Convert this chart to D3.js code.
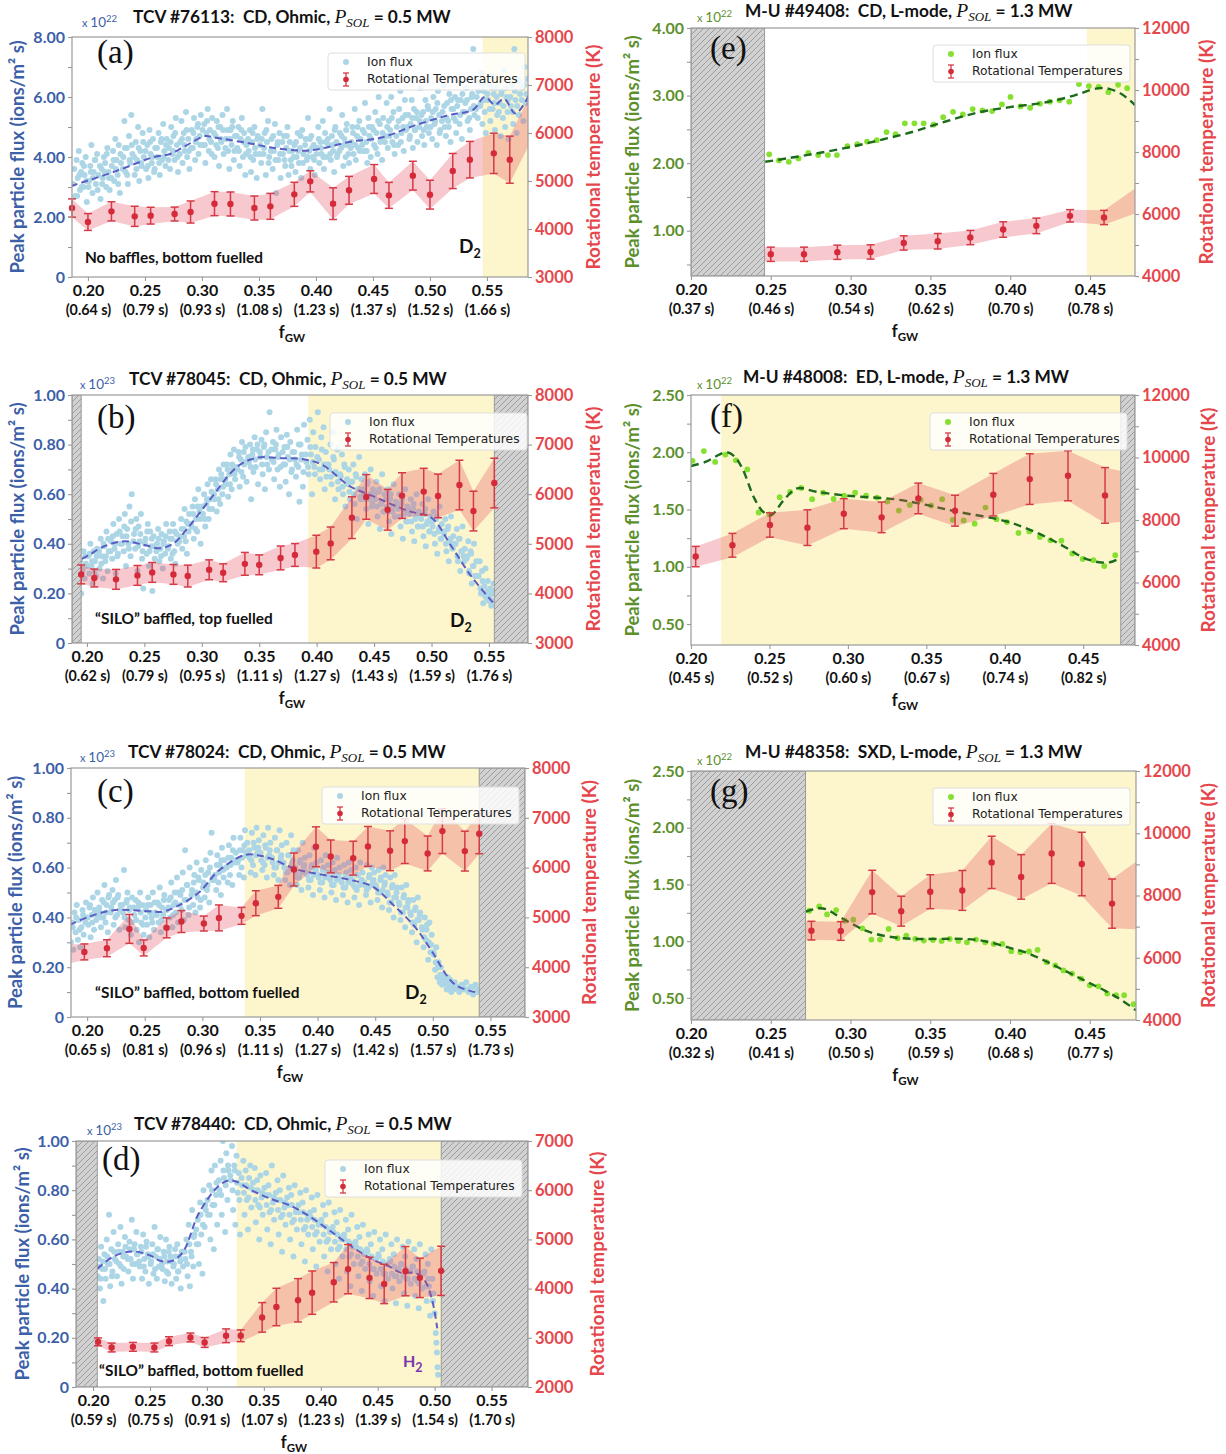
<!DOCTYPE html>
<html>
<head>
<meta charset="utf-8">
<script src="https://cdn.jsdelivr.net/npm/d3@7"></script>
<style>
body { margin: 0; background: #fff; }
svg { display: block; }
</style>
</head>
<body>
<svg id="fig" width="1226" height="1454"></svg>
<script>
// ---------- data ----------
var ticksTCV = [0.20, 0.25, 0.30, 0.35, 0.40, 0.45, 0.50, 0.55];
var ticksMU = [0.20, 0.25, 0.30, 0.35, 0.40, 0.45];
var timesA = ['0.64', '0.79', '0.93', '1.08', '1.23', '1.37', '1.52', '1.66'];
var timesB = ['0.62', '0.79', '0.95', '1.11', '1.27', '1.43', '1.59', '1.76'];
var timesC = ['0.65', '0.81', '0.96', '1.11', '1.27', '1.42', '1.57', '1.73'];
var timesD = ['0.59', '0.75', '0.91', '1.07', '1.23', '1.39', '1.54', '1.70'];
var timesE = ['0.37', '0.46', '0.54', '0.62', '0.70', '0.78'];
var timesF = ['0.45', '0.52', '0.60', '0.67', '0.74', '0.82'];
var timesG = ['0.32', '0.41', '0.50', '0.59', '0.68', '0.77'];

// ion flux, TCV #76113 (x 1e22): outer spread + dense core
var ionA = [[0.187,3.1],[0.188,3.6],[0.189,2.7],[0.190,3.9],[0.191,3.3],[0.192,4.2],[0.193,2.9],[0.194,3.5],[0.195,3.8],[0.196,3.0],[0.197,3.4],[0.198,4.0],[0.199,2.5],
[0.201,3.2],[0.202,3.7],[0.203,4.4],[0.204,2.8],[0.205,3.5],[0.206,3.9],[0.207,3.1],[0.208,4.1],[0.209,3.4],
[0.211,2.6],[0.212,3.6],[0.213,3.3],[0.214,4.0],[0.215,3.8],[0.216,3.0],[0.217,4.3],[0.218,3.5],[0.219,2.9],
[0.221,3.7],[0.222,4.2],[0.223,3.2],[0.224,4.6],[0.225,3.9],[0.226,3.4],[0.227,4.4],[0.228,2.8],[0.229,3.8],
[0.231,4.0],[0.232,5.2],[0.233,3.5],[0.234,4.3],[0.235,3.1],[0.236,4.7],[0.237,3.8],[0.238,5.4],[0.239,4.1],
[0.241,3.4],[0.242,4.5],[0.243,3.9],[0.244,5.0],[0.245,3.2],[0.246,4.2],[0.247,3.7],[0.248,4.8],[0.249,4.0],
[0.251,3.6],[0.252,4.4],[0.253,3.3],[0.254,4.9],[0.255,4.1],[0.256,3.8],[0.257,4.6],[0.258,3.5],[0.259,4.3],
[0.261,4.0],[0.262,4.8],[0.263,3.4],[0.264,4.5],[0.265,3.9],[0.266,5.1],[0.267,4.2],[0.268,3.7],[0.269,4.6],
[0.271,4.3],[0.272,3.6],[0.273,5.0],[0.274,4.1],[0.275,4.7],[0.276,3.9],[0.277,5.3],[0.278,4.4],[0.279,3.5],
[0.281,4.5],[0.282,5.2],[0.283,3.8],[0.284,4.8],[0.285,4.2],[0.286,5.5],[0.287,4.0],[0.288,4.6],[0.289,3.6],
[0.291,4.9],[0.292,4.3],[0.293,5.3],[0.294,3.9],[0.295,4.6],[0.296,5.0],[0.297,4.1],[0.298,4.7],[0.299,5.4],
[0.301,4.4],[0.302,5.1],[0.303,3.8],[0.304,4.8],[0.305,5.6],[0.306,4.2],[0.307,4.9],[0.308,4.5],[0.309,5.3],
[0.311,4.0],[0.312,4.7],[0.313,5.2],[0.314,4.3],[0.315,3.7],[0.316,5.0],[0.317,4.5],[0.318,5.4],[0.319,4.1],
[0.321,4.6],[0.322,5.6],[0.323,4.2],[0.324,3.6],[0.325,4.9],[0.326,4.4],[0.327,5.2],[0.328,3.9],[0.329,4.7],
[0.331,4.3],[0.332,5.0],[0.333,3.7],[0.334,4.6],[0.335,5.3],[0.336,4.0],[0.337,4.8],[0.338,3.4],[0.339,4.4],
[0.341,4.2],[0.342,4.9],[0.343,3.5],[0.344,4.5],[0.345,3.9],[0.346,5.0],[0.347,4.1],[0.348,3.3],[0.349,4.7],
[0.351,4.4],[0.352,3.8],[0.353,5.6],[0.354,4.1],[0.355,4.8],[0.356,3.4],[0.357,4.5],[0.358,5.2],[0.359,4.0],
[0.361,4.6],[0.362,3.6],[0.363,4.2],[0.364,5.1],[0.365,2.8],[0.366,4.4],[0.367,3.9],[0.368,4.8],[0.369,3.3],
[0.371,4.1],[0.372,4.7],[0.373,3.7],[0.374,4.3],[0.375,5.0],[0.376,3.4],[0.377,4.5],[0.378,3.9],[0.379,4.2],
[0.381,4.4],[0.382,3.5],[0.383,4.0],[0.384,4.8],[0.385,3.8],[0.386,4.3],[0.387,3.3],[0.388,4.9],[0.389,4.1],
[0.391,4.6],[0.392,3.9],[0.393,5.3],[0.394,4.2],[0.395,3.6],[0.396,4.7],[0.397,4.0],[0.398,4.4],[0.399,3.4],
[0.401,4.3],[0.402,5.0],[0.403,3.8],[0.404,4.5],[0.405,4.1],[0.406,5.2],[0.407,3.6],[0.408,4.8],[0.409,4.0],
[0.411,4.4],[0.412,5.6],[0.413,3.9],[0.414,4.7],[0.415,4.2],[0.416,3.5],[0.417,5.0],[0.418,4.5],[0.419,4.1],
[0.421,4.8],[0.422,4.3],[0.423,5.4],[0.424,3.7],[0.425,4.6],[0.426,4.0],[0.427,5.1],[0.428,4.4],[0.429,3.8],
[0.431,4.5],[0.432,5.0],[0.433,4.1],[0.434,5.6],[0.435,3.9],[0.436,4.7],[0.437,4.3],[0.438,5.2],[0.439,4.6],
[0.441,4.9],[0.442,4.2],[0.443,5.8],[0.444,4.5],[0.445,3.8],[0.446,5.3],[0.447,4.7],[0.448,4.0],[0.449,5.0],
[0.451,4.4],[0.452,5.5],[0.453,4.8],[0.454,4.1],[0.455,6.0],[0.456,5.1],[0.457,4.6],[0.458,3.9],[0.459,5.3],
[0.461,4.7],[0.462,5.8],[0.463,4.3],[0.464,5.2],[0.465,4.9],[0.466,6.0],[0.467,4.5],[0.468,5.5],[0.469,4.1],
[0.471,5.0],[0.472,4.4],[0.473,5.6],[0.474,6.2],[0.475,4.8],[0.476,5.3],[0.477,4.2],[0.478,5.9],[0.479,4.9],
[0.481,5.4],[0.482,4.6],[0.483,5.1],[0.484,5.9],[0.485,4.3],[0.486,5.6],[0.487,4.9],[0.488,5.3],[0.489,4.5],
[0.491,5.2],[0.492,6.3],[0.493,4.7],[0.494,5.5],[0.495,4.4],[0.496,5.9],[0.497,5.0],[0.498,5.7],[0.499,4.8],
[0.501,5.3],[0.502,4.6],[0.503,6.0],[0.504,5.1],[0.505,5.6],[0.506,4.4],[0.507,6.2],[0.508,5.4],[0.509,4.9],
[0.511,5.5],[0.512,6.4],[0.513,5.0],[0.514,4.7],[0.515,5.8],[0.516,5.2],[0.517,6.1],[0.518,4.5],[0.519,5.6],
[0.521,5.3],[0.522,6.0],[0.523,4.8],[0.524,5.7],[0.525,6.5],[0.526,5.1],[0.527,5.9],[0.528,4.6],[0.529,5.5],
[0.531,5.8],[0.532,6.3],[0.533,5.2],[0.534,6.6],[0.535,4.9],[0.536,5.6],[0.537,6.1],[0.538,7.6],[0.539,5.4],
[0.541,6.0],[0.542,5.3],[0.543,6.5],[0.544,5.7],[0.545,6.8],[0.546,5.1],[0.547,6.2],[0.548,5.5],[0.549,4.8],
[0.551,5.9],[0.552,6.4],[0.553,5.2],[0.554,6.7],[0.555,5.6],[0.556,6.1],[0.557,4.9],[0.558,6.3],[0.559,5.4],
[0.561,5.8],[0.562,4.7],[0.563,6.2],[0.564,5.3],[0.565,6.9],[0.566,5.0],[0.567,6.0],[0.568,5.5],[0.569,4.6],
[0.571,5.7],[0.572,6.4],[0.573,5.1],[0.574,7.6],[0.575,5.9],[0.576,4.8],[0.577,6.6],[0.578,5.4],[0.579,6.1],
[0.581,6.3],[0.582,5.2],[0.583,7.0],[0.584,5.8],[0.585,6.6]];
var ionA2 = [[0.1905,2.7],[0.1925,3.4],[0.1945,3.0],[0.1965,3.7],[0.1985,3.2],[0.2005,3.0],[0.2025,3.5],[0.2045,3.3],[0.2065,3.9],[0.2085,2.9],
[0.2105,3.7],[0.2125,3.1],[0.2145,3.5],[0.2165,4.1],[0.2185,3.3],[0.2205,3.3],[0.2225,3.9],[0.2245,3.6],[0.2265,3.1],[0.2285,4.1],
[0.2305,3.6],[0.2325,4.3],[0.2345,3.4],[0.2365,3.9],[0.2385,4.4],[0.2405,4.0],[0.2425,3.6],[0.2445,4.3],[0.2465,3.8],[0.2485,4.5],
[0.2505,4.2],[0.2525,3.7],[0.2545,4.5],[0.2565,4.0],[0.2585,3.6],[0.2605,4.3],[0.2625,3.8],[0.2645,4.6],[0.2665,4.0],[0.2685,4.4],
[0.2705,3.9],[0.2725,4.5],[0.2745,4.2],[0.2765,4.8],[0.2785,4.0],[0.2805,4.1],[0.2825,4.6],[0.2845,4.4],[0.2865,4.9],[0.2885,4.2],
[0.2905,4.3],[0.2925,4.8],[0.2945,4.5],[0.2965,5.1],[0.2985,4.4],[0.3005,4.9],[0.3025,4.4],[0.3045,5.2],[0.3065,4.6],[0.3085,4.1],
[0.3105,4.8],[0.3125,4.4],[0.3145,5.0],[0.3165,4.6],[0.3185,4.9],[0.3205,4.3],[0.3225,4.9],[0.3245,4.6],[0.3265,5.0],[0.3285,4.2],
[0.3305,4.7],[0.3325,4.2],[0.3345,4.9],[0.3365,4.5],[0.3385,4.1],[0.3405,4.6],[0.3425,4.0],[0.3445,4.8],[0.3465,4.3],[0.3485,4.6],
[0.3505,4.1],[0.3525,4.6],[0.3545,4.3],[0.3565,4.9],[0.3585,3.8],[0.3605,4.2],[0.3625,4.7],[0.3645,3.9],[0.3665,4.5],[0.3685,4.1],
[0.3705,4.5],[0.3725,3.9],[0.3745,4.7],[0.3765,4.2],[0.3785,3.7],[0.3805,4.0],[0.3825,4.5],[0.3845,4.2],[0.3865,4.7],[0.3885,3.8],
[0.3905,4.4],[0.3925,4.0],[0.3945,4.6],[0.3965,4.3],[0.3985,3.9],[0.4005,4.1],[0.4025,4.6],[0.4045,4.3],[0.4065,4.0],[0.4085,4.5],
[0.4105,4.6],[0.4125,4.1],[0.4145,4.4],[0.4165,4.9],[0.4185,4.0],[0.4205,4.2],[0.4225,4.7],[0.4245,4.4],[0.4265,4.9],[0.4285,4.1],
[0.4305,4.3],[0.4325,4.8],[0.4345,4.4],[0.4365,5.0],[0.4385,4.2],[0.4405,4.4],[0.4425,4.8],[0.4445,4.2],[0.4465,5.0],[0.4485,4.6],
[0.4505,4.9],[0.4525,4.3],[0.4545,5.2],[0.4565,4.5],[0.4585,4.8],[0.4605,4.5],[0.4625,5.0],[0.4645,4.7],[0.4665,5.3],[0.4685,4.4],
[0.4705,4.7],[0.4725,5.2],[0.4745,4.5],[0.4765,5.0],[0.4785,5.4],[0.4805,5.0],[0.4825,4.7],[0.4845,5.3],[0.4865,4.9],[0.4885,5.5],
[0.4905,5.0],[0.4925,5.4],[0.4945,4.9],[0.4965,5.2],[0.4985,5.6],[0.5005,5.0],[0.5025,5.5],[0.5045,5.2],[0.5065,5.8],[0.5085,4.8],
[0.5105,5.2],[0.5125,5.7],[0.5145,5.3],[0.5165,5.0],[0.5185,5.9],[0.5205,5.6],[0.5225,5.2],[0.5245,5.9],[0.5265,5.4],[0.5285,6.1],
[0.5305,5.5],[0.5325,5.9],[0.5345,5.3],[0.5365,6.0],[0.5385,5.7],[0.5405,5.6],[0.5425,6.2],[0.5445,5.8],[0.5465,6.4],[0.5485,5.9],
[0.5505,6.1],[0.5525,5.6],[0.5545,6.3],[0.5565,5.8],[0.5585,6.0],[0.5605,5.5],[0.5625,6.1],[0.5645,5.7],[0.5665,6.3],[0.5685,5.9],
[0.5705,6.0],[0.5725,5.5],[0.5745,6.2],[0.5765,5.7],[0.5785,6.5],[0.5805,5.9],[0.5825,6.4],[0.5845,6.1]];

// ion flux, TCV #78045 (x 1e23)
var ionB = [[0.187,0.30],[0.188,0.25],[0.189,0.34],[0.190,0.28],[0.191,0.36],[0.192,0.31],[0.193,0.24],[0.194,0.33],[0.195,0.20],[0.196,0.29],[0.197,0.37],[0.198,0.26],[0.199,0.32],
[0.201,0.35],[0.202,0.28],[0.203,0.40],[0.204,0.31],[0.205,0.24],[0.206,0.37],[0.207,0.33],[0.208,0.27],[0.209,0.38],
[0.211,0.30],[0.212,0.42],[0.213,0.35],[0.214,0.26],[0.215,0.39],[0.216,0.33],[0.217,0.45],[0.218,0.29],[0.219,0.37],
[0.221,0.41],[0.222,0.34],[0.223,0.48],[0.224,0.38],[0.225,0.28],[0.226,0.44],[0.227,0.36],[0.228,0.50],[0.229,0.40],
[0.231,0.43],[0.232,0.37],[0.233,0.52],[0.234,0.31],[0.235,0.46],[0.236,0.40],[0.237,0.55],[0.238,0.35],[0.239,0.60],
[0.241,0.44],[0.242,0.38],[0.243,0.50],[0.244,0.29],[0.245,0.47],[0.246,0.41],[0.247,0.52],[0.248,0.34],[0.249,0.22],
[0.251,0.42],[0.252,0.36],[0.253,0.48],[0.254,0.31],[0.255,0.45],[0.256,0.39],[0.257,0.21],[0.258,0.43],[0.259,0.34],
[0.261,0.40],[0.262,0.46],[0.263,0.33],[0.264,0.38],[0.265,0.44],[0.266,0.30],[0.267,0.41],[0.268,0.36],[0.269,0.48],
[0.271,0.39],[0.272,0.45],[0.273,0.34],[0.274,0.42],[0.275,0.48],[0.276,0.37],[0.277,0.32],[0.278,0.44],[0.279,0.40],
[0.281,0.43],[0.282,0.50],[0.283,0.38],[0.284,0.46],[0.285,0.54],[0.286,0.41],[0.287,0.36],[0.288,0.48],[0.289,0.52],
[0.291,0.47],[0.292,0.55],[0.293,0.42],[0.294,0.58],[0.295,0.50],[0.296,0.45],[0.297,0.62],[0.298,0.53],[0.299,0.40],
[0.301,0.52],[0.302,0.60],[0.303,0.47],[0.304,0.56],[0.305,0.64],[0.306,0.50],[0.307,0.58],[0.308,0.66],[0.309,0.54],
[0.311,0.58],[0.312,0.66],[0.313,0.53],[0.314,0.62],[0.315,0.70],[0.316,0.56],[0.317,0.68],[0.318,0.60],[0.319,0.72],
[0.321,0.64],[0.322,0.72],[0.323,0.59],[0.324,0.68],[0.325,0.76],[0.326,0.62],[0.327,0.70],[0.328,0.78],[0.329,0.66],
[0.331,0.70],[0.332,0.77],[0.333,0.63],[0.334,0.74],[0.335,0.81],[0.336,0.67],[0.337,0.72],[0.338,0.79],[0.339,0.65],
[0.341,0.73],[0.342,0.80],[0.343,0.58],[0.344,0.76],[0.345,0.69],[0.346,0.83],[0.347,0.71],[0.348,0.78],[0.349,0.64],
[0.351,0.75],[0.352,0.82],[0.353,0.68],[0.354,0.79],[0.355,0.62],[0.356,0.85],[0.357,0.72],[0.358,0.77],[0.359,0.93],
[0.361,0.74],[0.362,0.81],[0.363,0.66],[0.364,0.78],[0.365,0.86],[0.366,0.70],[0.367,0.76],[0.368,0.63],[0.369,0.83],
[0.371,0.72],[0.372,0.79],[0.373,0.65],[0.374,0.84],[0.375,0.75],[0.376,0.60],[0.377,0.81],[0.378,0.69],[0.379,0.77],
[0.381,0.74],[0.382,0.67],[0.383,0.86],[0.384,0.71],[0.385,0.57],[0.386,0.80],[0.387,0.76],[0.388,0.63],[0.389,0.88],
[0.391,0.73],[0.392,0.82],[0.393,0.68],[0.394,0.90],[0.395,0.76],[0.396,0.60],[0.397,0.85],[0.398,0.71],[0.399,0.79],
[0.401,0.93],[0.402,0.74],[0.403,0.66],[0.404,0.83],[0.405,0.70],[0.406,0.87],[0.407,0.62],[0.408,0.77],[0.409,0.72],
[0.411,0.70],[0.412,0.80],[0.413,0.64],[0.414,0.85],[0.415,0.74],[0.416,0.58],[0.417,0.68],[0.418,0.78],[0.419,0.62],
[0.421,0.67],[0.422,0.76],[0.423,0.60],[0.424,0.72],[0.425,0.55],[0.426,0.80],[0.427,0.64],[0.428,0.70],[0.429,0.58],
[0.431,0.65],[0.432,0.72],[0.433,0.56],[0.434,0.68],[0.435,0.50],[0.436,0.62],[0.437,0.75],[0.438,0.59],[0.439,0.66],
[0.441,0.60],[0.442,0.68],[0.443,0.54],[0.444,0.64],[0.445,0.48],[0.446,0.58],[0.447,0.70],[0.448,0.55],[0.449,0.62],
[0.451,0.58],[0.452,0.65],[0.453,0.51],[0.454,0.61],[0.455,0.46],[0.456,0.56],[0.457,0.68],[0.458,0.53],[0.459,0.60],
[0.461,0.55],[0.462,0.62],[0.463,0.49],[0.464,0.58],[0.465,0.44],[0.466,0.53],[0.467,0.64],[0.468,0.51],[0.469,0.57],
[0.471,0.54],[0.472,0.60],[0.473,0.47],[0.474,0.56],[0.475,0.42],[0.476,0.52],[0.477,0.62],[0.478,0.49],[0.479,0.55],
[0.481,0.52],[0.482,0.58],[0.483,0.45],[0.484,0.54],[0.485,0.41],[0.486,0.50],[0.487,0.60],[0.488,0.47],[0.489,0.53],
[0.491,0.50],[0.492,0.56],[0.493,0.43],[0.494,0.52],[0.495,0.39],[0.496,0.48],[0.497,0.58],[0.498,0.45],[0.499,0.51],
[0.501,0.47],[0.502,0.53],[0.503,0.40],[0.504,0.50],[0.505,0.36],[0.506,0.45],[0.507,0.55],[0.508,0.42],[0.509,0.48],
[0.511,0.44],[0.512,0.50],[0.513,0.37],[0.514,0.46],[0.515,0.33],[0.516,0.41],[0.517,0.51],[0.518,0.39],[0.519,0.43],
[0.521,0.40],[0.522,0.46],[0.523,0.33],[0.524,0.42],[0.525,0.29],[0.526,0.37],[0.527,0.47],[0.528,0.35],[0.529,0.38],
[0.531,0.35],[0.532,0.41],[0.533,0.28],[0.534,0.37],[0.535,0.24],[0.536,0.31],[0.537,0.40],[0.538,0.27],[0.539,0.33],
[0.541,0.27],[0.542,0.33],[0.543,0.20],[0.544,0.29],[0.545,0.16],[0.546,0.23],[0.547,0.30],[0.548,0.18],[0.549,0.25],
[0.550,0.17],[0.551,0.22],[0.552,0.15],[0.553,0.20],[0.554,0.24]];
var ionB2 = [[0.1875,0.31],[0.1905,0.27],[0.1935,0.33],[0.1965,0.30],[0.1985,0.35],[0.2005,0.31],[0.2025,0.36],[0.2045,0.33],[0.2065,0.29],[0.2085,0.35],
[0.2105,0.37],[0.2125,0.32],[0.2145,0.40],[0.2165,0.35],[0.2185,0.42],[0.2205,0.37],[0.2225,0.43],[0.2245,0.40],[0.2265,0.35],[0.2285,0.45],
[0.2305,0.40],[0.2325,0.47],[0.2345,0.43],[0.2365,0.38],[0.2385,0.49],[0.2405,0.41],[0.2425,0.46],[0.2445,0.39],[0.2465,0.44],[0.2485,0.37],
[0.2505,0.40],[0.2525,0.45],[0.2545,0.37],[0.2565,0.42],[0.2585,0.39],[0.2605,0.37],[0.2625,0.42],[0.2645,0.35],[0.2665,0.40],[0.2685,0.43],
[0.2705,0.38],[0.2725,0.42],[0.2745,0.36],[0.2765,0.45],[0.2785,0.41],[0.2805,0.41],[0.2825,0.46],[0.2845,0.43],[0.2865,0.49],[0.2885,0.45],
[0.2905,0.48],[0.2925,0.52],[0.2945,0.46],[0.2965,0.55],[0.2985,0.50],[0.3005,0.55],[0.3025,0.50],[0.3045,0.58],[0.3065,0.54],[0.3085,0.61],
[0.3105,0.60],[0.3125,0.64],[0.3145,0.58],[0.3165,0.66],[0.3185,0.63],[0.3205,0.66],[0.3225,0.70],[0.3245,0.64],[0.3265,0.72],[0.3285,0.68],
[0.3305,0.71],[0.3325,0.75],[0.3345,0.69],[0.3365,0.77],[0.3385,0.73],[0.3405,0.75],[0.3425,0.71],[0.3445,0.78],[0.3465,0.74],[0.3485,0.80],
[0.3505,0.77],[0.3525,0.72],[0.3545,0.80],[0.3565,0.75],[0.3585,0.70],[0.3605,0.78],[0.3625,0.73],[0.3645,0.80],[0.3665,0.75],[0.3685,0.71],
[0.3705,0.77],[0.3725,0.72],[0.3745,0.79],[0.3765,0.74],[0.3785,0.70],[0.3805,0.77],[0.3825,0.72],[0.3845,0.80],[0.3865,0.74],[0.3885,0.69],
[0.3905,0.76],[0.3925,0.71],[0.3945,0.79],[0.3965,0.73],[0.3985,0.68],[0.4005,0.75],[0.4025,0.70],[0.4045,0.78],[0.4065,0.72],[0.4085,0.67],
[0.4105,0.72],[0.4125,0.67],[0.4145,0.75],[0.4165,0.69],[0.4185,0.65],[0.4205,0.68],[0.4225,0.63],[0.4245,0.71],[0.4265,0.66],[0.4285,0.61],
[0.4305,0.65],[0.4325,0.60],[0.4345,0.67],[0.4365,0.62],[0.4385,0.58],[0.4405,0.62],[0.4425,0.58],[0.4445,0.65],[0.4465,0.60],[0.4485,0.56],
[0.4505,0.60],[0.4525,0.55],[0.4545,0.62],[0.4565,0.57],[0.4585,0.53],[0.4605,0.58],[0.4625,0.53],[0.4645,0.60],[0.4665,0.55],[0.4685,0.51],
[0.4705,0.56],[0.4725,0.51],[0.4745,0.58],[0.4765,0.53],[0.4785,0.49],[0.4805,0.54],[0.4825,0.49],[0.4845,0.56],[0.4865,0.51],[0.4885,0.47],
[0.4905,0.52],[0.4925,0.47],[0.4945,0.54],[0.4965,0.49],[0.4985,0.45],[0.5005,0.49],[0.5025,0.44],[0.5045,0.51],[0.5065,0.46],[0.5085,0.42],
[0.5105,0.45],[0.5125,0.40],[0.5145,0.47],[0.5165,0.42],[0.5185,0.38],[0.5205,0.40],[0.5225,0.35],[0.5245,0.42],[0.5265,0.37],[0.5285,0.33],
[0.5305,0.34],[0.5325,0.29],[0.5345,0.36],[0.5365,0.31],[0.5385,0.27],[0.5405,0.27],[0.5425,0.22],[0.5445,0.25],[0.5465,0.19],[0.5485,0.21],
[0.5505,0.19],[0.5525,0.17],[0.5545,0.21]];

// ion flux, TCV #78024 (x 1e23)
var ionC = [[0.186,0.30],[0.187,0.38],[0.188,0.27],[0.189,0.42],[0.190,0.34],[0.191,0.45],[0.192,0.31],[0.193,0.39],[0.194,0.28],[0.195,0.36],[0.196,0.43],[0.197,0.33],[0.198,0.40],[0.199,0.46],
[0.201,0.37],[0.202,0.44],[0.203,0.32],[0.204,0.41],[0.205,0.48],[0.206,0.35],[0.207,0.43],[0.208,0.39],[0.209,0.50],
[0.211,0.42],[0.212,0.36],[0.213,0.47],[0.214,0.40],[0.215,0.53],[0.216,0.38],[0.217,0.45],[0.218,0.34],[0.219,0.49],
[0.221,0.44],[0.222,0.51],[0.223,0.37],[0.224,0.47],[0.225,0.55],[0.226,0.41],[0.227,0.49],[0.228,0.35],[0.229,0.45],
[0.231,0.42],[0.232,0.59],[0.233,0.36],[0.234,0.46],[0.235,0.50],[0.236,0.39],[0.237,0.44],[0.238,0.33],[0.239,0.48],
[0.241,0.41],[0.242,0.47],[0.243,0.35],[0.244,0.44],[0.245,0.30],[0.246,0.50],[0.247,0.38],[0.248,0.45],[0.249,0.33],
[0.251,0.43],[0.252,0.37],[0.253,0.48],[0.254,0.32],[0.255,0.45],[0.256,0.40],[0.257,0.50],[0.258,0.35],[0.259,0.42],
[0.261,0.46],[0.262,0.38],[0.263,0.52],[0.264,0.34],[0.265,0.44],[0.266,0.41],[0.267,0.49],[0.268,0.36],[0.269,0.43],
[0.271,0.47],[0.272,0.40],[0.273,0.54],[0.274,0.36],[0.275,0.45],[0.276,0.50],[0.277,0.42],[0.278,0.56],[0.279,0.38],
[0.281,0.49],[0.282,0.43],[0.283,0.58],[0.284,0.39],[0.285,0.67],[0.286,0.47],[0.287,0.53],[0.288,0.41],[0.289,0.60],
[0.291,0.51],[0.292,0.45],[0.293,0.57],[0.294,0.42],[0.295,0.62],[0.296,0.48],[0.297,0.55],[0.298,0.44],[0.299,0.59],
[0.301,0.54],[0.302,0.48],[0.303,0.63],[0.304,0.51],[0.305,0.58],[0.306,0.46],[0.307,0.66],[0.308,0.74],[0.309,0.56],
[0.311,0.57],[0.312,0.51],[0.313,0.65],[0.314,0.54],[0.315,0.61],[0.316,0.49],[0.317,0.68],[0.318,0.59],[0.319,0.63],
[0.321,0.60],[0.322,0.54],[0.323,0.69],[0.324,0.57],[0.325,0.64],[0.326,0.53],[0.327,0.72],[0.328,0.62],[0.329,0.66],
[0.331,0.63],[0.332,0.57],[0.333,0.72],[0.334,0.60],[0.335,0.67],[0.336,0.56],[0.337,0.75],[0.338,0.65],[0.339,0.70],
[0.341,0.64],[0.342,0.58],[0.343,0.74],[0.344,0.61],[0.345,0.68],[0.346,0.57],[0.347,0.76],[0.348,0.66],[0.349,0.71],
[0.351,0.63],[0.352,0.59],[0.353,0.73],[0.354,0.61],[0.355,0.68],[0.356,0.56],[0.357,0.76],[0.358,0.65],[0.359,0.70],
[0.361,0.62],[0.362,0.57],[0.363,0.72],[0.364,0.60],[0.365,0.67],[0.366,0.55],[0.367,0.75],[0.368,0.64],[0.369,0.69],
[0.371,0.60],[0.372,0.55],[0.373,0.70],[0.374,0.58],[0.375,0.65],[0.376,0.53],[0.377,0.73],[0.378,0.62],[0.379,0.67],
[0.381,0.58],[0.382,0.53],[0.383,0.67],[0.384,0.56],[0.385,0.63],[0.386,0.51],[0.387,0.70],[0.388,0.60],[0.389,0.64],
[0.391,0.57],[0.392,0.52],[0.393,0.65],[0.394,0.55],[0.395,0.61],[0.396,0.49],[0.397,0.68],[0.398,0.58],[0.399,0.62],
[0.401,0.56],[0.402,0.51],[0.403,0.63],[0.404,0.54],[0.405,0.60],[0.406,0.48],[0.407,0.65],[0.408,0.57],[0.409,0.61],
[0.411,0.55],[0.412,0.50],[0.413,0.62],[0.414,0.53],[0.415,0.59],[0.416,0.47],[0.417,0.64],[0.418,0.56],[0.419,0.60],
[0.421,0.54],[0.422,0.49],[0.423,0.61],[0.424,0.52],[0.425,0.58],[0.426,0.46],[0.427,0.62],[0.428,0.55],[0.429,0.59],
[0.431,0.53],[0.432,0.48],[0.433,0.60],[0.434,0.51],[0.435,0.57],[0.436,0.45],[0.437,0.62],[0.438,0.55],[0.439,0.58],
[0.441,0.53],[0.442,0.49],[0.443,0.61],[0.444,0.52],[0.445,0.57],[0.446,0.46],[0.447,0.60],[0.448,0.55],[0.449,0.58],
[0.451,0.52],[0.452,0.47],[0.453,0.59],[0.454,0.50],[0.455,0.56],[0.456,0.44],[0.457,0.60],[0.458,0.53],[0.459,0.57],
[0.461,0.49],[0.462,0.43],[0.463,0.56],[0.464,0.46],[0.465,0.53],[0.466,0.40],[0.467,0.57],[0.468,0.48],[0.469,0.52],
[0.471,0.45],[0.472,0.39],[0.473,0.52],[0.474,0.42],[0.475,0.49],[0.476,0.36],[0.477,0.53],[0.478,0.44],[0.479,0.47],
[0.481,0.41],[0.482,0.34],[0.483,0.47],[0.484,0.37],[0.485,0.44],[0.486,0.30],[0.487,0.48],[0.488,0.39],[0.489,0.42],
[0.491,0.35],[0.492,0.28],[0.493,0.40],[0.494,0.31],[0.495,0.37],[0.496,0.23],[0.497,0.38],[0.498,0.26],[0.499,0.33],
[0.501,0.25],[0.502,0.19],[0.503,0.28],[0.504,0.16],[0.505,0.22],[0.506,0.14],[0.507,0.20],[0.508,0.13],[0.509,0.17],
[0.511,0.14],[0.512,0.11],[0.513,0.16],[0.514,0.12],[0.515,0.15],[0.516,0.10],[0.517,0.13],[0.518,0.11],[0.519,0.14],
[0.521,0.12],[0.523,0.10],[0.525,0.13],[0.527,0.11],[0.529,0.14],[0.531,0.10],[0.533,0.12],[0.535,0.09],[0.537,0.13],[0.539,0.11]];
var ionC2 = [[0.1875,0.36],[0.1905,0.40],[0.1935,0.35],[0.1965,0.41],[0.1985,0.38],[0.2005,0.40],[0.2025,0.45],[0.2045,0.38],[0.2065,0.43],[0.2085,0.41],
[0.2105,0.44],[0.2125,0.40],[0.2145,0.46],[0.2165,0.42],[0.2185,0.48],[0.2205,0.42],[0.2225,0.46],[0.2245,0.40],[0.2265,0.48],[0.2285,0.43],
[0.2305,0.45],[0.2325,0.40],[0.2345,0.47],[0.2365,0.43],[0.2385,0.38],[0.2405,0.44],[0.2425,0.39],[0.2445,0.46],[0.2465,0.42],[0.2485,0.37],
[0.2505,0.40],[0.2525,0.45],[0.2545,0.42],[0.2565,0.38],[0.2585,0.46],[0.2605,0.41],[0.2625,0.45],[0.2645,0.39],[0.2665,0.47],[0.2685,0.43],
[0.2705,0.44],[0.2725,0.48],[0.2745,0.41],[0.2765,0.46],[0.2785,0.50],[0.2805,0.45],[0.2825,0.51],[0.2845,0.47],[0.2865,0.53],[0.2885,0.44],
[0.2905,0.49],[0.2925,0.54],[0.2945,0.50],[0.2965,0.56],[0.2985,0.47],[0.3005,0.52],[0.3025,0.57],[0.3045,0.53],[0.3065,0.60],[0.3085,0.55],
[0.3105,0.55],[0.3125,0.61],[0.3145,0.58],[0.3165,0.63],[0.3185,0.56],[0.3205,0.60],[0.3225,0.64],[0.3245,0.61],[0.3265,0.67],[0.3285,0.63],
[0.3305,0.62],[0.3325,0.67],[0.3345,0.64],[0.3365,0.69],[0.3385,0.66],[0.3405,0.67],[0.3425,0.63],[0.3445,0.70],[0.3465,0.65],[0.3485,0.68],
[0.3505,0.66],[0.3525,0.62],[0.3545,0.69],[0.3565,0.64],[0.3585,0.67],[0.3605,0.64],[0.3625,0.60],[0.3645,0.67],[0.3665,0.62],[0.3685,0.65],
[0.3705,0.62],[0.3725,0.58],[0.3745,0.65],[0.3765,0.60],[0.3785,0.63],[0.3805,0.60],[0.3825,0.56],[0.3845,0.62],[0.3865,0.58],[0.3885,0.61],
[0.3905,0.58],[0.3925,0.55],[0.3945,0.60],[0.3965,0.57],[0.3985,0.59],[0.4005,0.57],[0.4025,0.54],[0.4045,0.59],[0.4065,0.56],[0.4085,0.58],
[0.4105,0.56],[0.4125,0.53],[0.4145,0.58],[0.4165,0.55],[0.4185,0.57],[0.4205,0.55],[0.4225,0.52],[0.4245,0.57],[0.4265,0.54],[0.4285,0.56],
[0.4305,0.55],[0.4325,0.52],[0.4345,0.57],[0.4365,0.53],[0.4385,0.55],[0.4405,0.54],[0.4425,0.51],[0.4445,0.56],[0.4465,0.53],[0.4485,0.55],
[0.4505,0.53],[0.4525,0.50],[0.4545,0.55],[0.4565,0.51],[0.4585,0.54],[0.4605,0.50],[0.4625,0.46],[0.4645,0.52],[0.4665,0.48],[0.4685,0.50],
[0.4705,0.46],[0.4725,0.42],[0.4745,0.48],[0.4765,0.44],[0.4785,0.46],[0.4805,0.42],[0.4825,0.38],[0.4845,0.43],[0.4865,0.39],[0.4885,0.41],
[0.4905,0.36],[0.4925,0.32],[0.4945,0.35],[0.4965,0.30],[0.4985,0.29],[0.5005,0.26],[0.5025,0.22],[0.5045,0.20],[0.5065,0.17],[0.5085,0.15],
[0.5105,0.16],[0.5125,0.13],[0.5145,0.14],[0.5165,0.12],[0.5185,0.12],[0.5225,0.11],[0.5265,0.12],[0.5305,0.11],[0.5345,0.12],[0.5385,0.10]];

// ion flux, TCV #78440 (x 1e23)
var ionD = [[0.204,0.45],[0.205,0.52],[0.206,0.40],[0.207,0.57],[0.208,0.48],[0.209,0.35],
[0.210,0.54],[0.211,0.44],[0.212,0.60],[0.213,0.50],[0.214,0.70],[0.215,0.41],[0.216,0.56],[0.217,0.47],[0.218,0.63],[0.219,0.52],
[0.221,0.45],[0.222,0.58],[0.223,0.50],[0.224,0.65],[0.225,0.42],[0.226,0.55],[0.227,0.48],[0.228,0.61],[0.229,0.53],
[0.231,0.47],[0.232,0.59],[0.233,0.52],[0.234,0.68],[0.235,0.44],[0.236,0.56],[0.237,0.50],[0.238,0.63],[0.239,0.54],
[0.241,0.49],[0.242,0.57],[0.243,0.44],[0.244,0.62],[0.245,0.52],[0.246,0.47],[0.247,0.59],[0.248,0.54],[0.249,0.42],
[0.251,0.51],[0.252,0.58],[0.253,0.46],[0.254,0.65],[0.255,0.53],[0.256,0.44],[0.257,0.56],[0.258,0.49],[0.259,0.61],
[0.261,0.48],[0.262,0.55],[0.263,0.43],[0.264,0.60],[0.265,0.51],[0.266,0.46],[0.267,0.57],[0.268,0.53],[0.269,0.42],
[0.271,0.50],[0.272,0.56],[0.273,0.44],[0.274,0.58],[0.275,0.47],[0.276,0.53],[0.277,0.40],[0.278,0.55],[0.279,0.49],
[0.281,0.52],[0.282,0.60],[0.283,0.45],[0.284,0.66],[0.285,0.41],[0.286,0.55],[0.287,0.72],[0.288,0.49],[0.289,0.62],
[0.291,0.58],[0.292,0.68],[0.293,0.50],[0.294,0.75],[0.295,0.62],[0.296,0.46],[0.297,0.80],[0.298,0.65],[0.299,0.72],
[0.301,0.70],[0.302,0.82],[0.303,0.60],[0.304,0.88],[0.305,0.74],[0.306,0.56],[0.307,0.90],[0.308,0.78],[0.309,0.66],
[0.311,0.80],[0.312,0.92],[0.313,0.70],[0.314,1.00],[0.315,0.85],[0.316,0.63],[0.317,0.95],[0.318,0.76],[0.319,0.88],
[0.321,0.84],[0.322,0.98],[0.323,0.72],[0.324,0.90],[0.325,0.66],[0.326,0.94],[0.327,0.79],[0.328,0.87],[0.329,0.62],
[0.331,0.82],[0.332,0.92],[0.333,0.70],[0.334,0.88],[0.335,0.76],[0.336,0.64],[0.337,0.85],[0.338,0.90],[0.339,0.73],
[0.341,0.80],[0.342,0.89],[0.343,0.67],[0.344,0.84],[0.345,0.74],[0.346,0.60],[0.347,0.86],[0.348,0.77],[0.349,0.70],
[0.351,0.78],[0.352,0.87],[0.353,0.64],[0.354,0.82],[0.355,0.71],[0.356,0.58],[0.357,0.90],[0.358,0.75],[0.359,0.68],
[0.361,0.76],[0.362,0.84],[0.363,0.62],[0.364,0.80],[0.365,0.69],[0.366,0.55],[0.367,0.86],[0.368,0.73],[0.369,0.66],
[0.371,0.74],[0.372,0.81],[0.373,0.60],[0.374,0.78],[0.375,0.67],[0.376,0.53],[0.377,0.82],[0.378,0.71],[0.379,0.64],
[0.381,0.71],[0.382,0.79],[0.383,0.58],[0.384,0.75],[0.385,0.64],[0.386,0.51],[0.387,0.80],[0.388,0.68],[0.389,0.62],
[0.391,0.69],[0.392,0.77],[0.393,0.56],[0.394,0.72],[0.395,0.62],[0.396,0.49],[0.397,0.78],[0.398,0.66],[0.399,0.59],
[0.401,0.66],[0.402,0.74],[0.403,0.53],[0.404,0.70],[0.405,0.59],[0.406,0.47],[0.407,0.75],[0.408,0.63],[0.409,0.56],
[0.411,0.63],[0.412,0.71],[0.413,0.50],[0.414,0.67],[0.415,0.56],[0.416,0.44],[0.417,0.72],[0.418,0.60],[0.419,0.53],
[0.421,0.60],[0.422,0.68],[0.423,0.47],[0.424,0.64],[0.425,0.53],[0.426,0.41],[0.427,0.70],[0.428,0.57],[0.429,0.50],
[0.431,0.57],[0.432,0.65],[0.433,0.45],[0.434,0.61],[0.435,0.50],[0.436,0.39],[0.437,0.66],[0.438,0.54],[0.439,0.48],
[0.441,0.55],[0.442,0.62],[0.443,0.43],[0.444,0.58],[0.445,0.48],[0.446,0.37],[0.447,0.63],[0.448,0.52],[0.449,0.46],
[0.451,0.53],[0.452,0.60],[0.453,0.41],[0.454,0.56],[0.455,0.46],[0.456,0.35],[0.457,0.62],[0.458,0.50],[0.459,0.44],
[0.461,0.51],[0.462,0.58],[0.463,0.40],[0.464,0.54],[0.465,0.45],[0.466,0.34],[0.467,0.60],[0.468,0.48],[0.469,0.43],
[0.471,0.50],[0.472,0.57],[0.473,0.38],[0.474,0.53],[0.475,0.44],[0.476,0.33],[0.477,0.59],[0.478,0.47],[0.479,0.42],
[0.481,0.49],[0.482,0.56],[0.483,0.37],[0.484,0.52],[0.485,0.43],[0.486,0.32],[0.487,0.58],[0.488,0.46],[0.489,0.40],
[0.491,0.47],[0.492,0.54],[0.493,0.35],[0.494,0.50],[0.495,0.41],[0.496,0.29],[0.497,0.56],[0.498,0.44],[0.499,0.38],
[0.500,0.30],[0.501,0.22],[0.502,0.14],[0.5025,0.08],[0.503,0.05],[0.5015,0.18]];
var ionD2 = [[0.2045,0.49],[0.2065,0.44],[0.2085,0.51],[0.2105,0.48],[0.2125,0.53],[0.2145,0.50],[0.2165,0.45],[0.2185,0.55],
[0.2205,0.51],[0.2225,0.55],[0.2245,0.49],[0.2265,0.53],[0.2285,0.57],[0.2305,0.52],[0.2325,0.56],[0.2345,0.50],[0.2365,0.58],[0.2385,0.54],
[0.2405,0.51],[0.2425,0.55],[0.2445,0.49],[0.2465,0.57],[0.2485,0.53],[0.2505,0.50],[0.2525,0.54],[0.2545,0.48],[0.2565,0.56],[0.2585,0.52],
[0.2605,0.50],[0.2625,0.53],[0.2645,0.47],[0.2665,0.55],[0.2685,0.51],[0.2705,0.49],[0.2725,0.53],[0.2745,0.47],[0.2765,0.51],[0.2785,0.55],
[0.2805,0.55],[0.2825,0.50],[0.2845,0.58],[0.2865,0.53],[0.2885,0.61],[0.2905,0.64],[0.2925,0.58],[0.2945,0.70],[0.2965,0.66],[0.2985,0.74],
[0.3005,0.76],[0.3025,0.70],[0.3045,0.80],[0.3065,0.74],[0.3085,0.83],[0.3105,0.84],[0.3125,0.78],[0.3145,0.88],[0.3165,0.82],[0.3185,0.90],
[0.3205,0.86],[0.3225,0.80],[0.3245,0.88],[0.3265,0.83],[0.3285,0.76],[0.3305,0.85],[0.3325,0.79],[0.3345,0.82],[0.3365,0.77],[0.3385,0.81],
[0.3405,0.83],[0.3425,0.76],[0.3445,0.80],[0.3465,0.73],[0.3485,0.79],[0.3505,0.81],[0.3525,0.74],[0.3545,0.78],[0.3565,0.72],[0.3585,0.77],
[0.3605,0.79],[0.3625,0.72],[0.3645,0.76],[0.3665,0.70],[0.3685,0.75],[0.3705,0.77],[0.3725,0.70],[0.3745,0.74],[0.3765,0.68],[0.3785,0.72],
[0.3805,0.74],[0.3825,0.68],[0.3845,0.71],[0.3865,0.65],[0.3885,0.70],[0.3905,0.71],[0.3925,0.65],[0.3945,0.68],[0.3965,0.63],[0.3985,0.67],
[0.4005,0.68],[0.4025,0.62],[0.4045,0.65],[0.4065,0.60],[0.4085,0.64],[0.4105,0.65],[0.4125,0.59],[0.4145,0.62],[0.4165,0.57],[0.4185,0.61],
[0.4205,0.62],[0.4225,0.56],[0.4245,0.59],[0.4265,0.54],[0.4285,0.58],[0.4305,0.59],[0.4325,0.53],[0.4345,0.56],[0.4365,0.51],[0.4385,0.55],
[0.4405,0.56],[0.4425,0.50],[0.4445,0.53],[0.4465,0.48],[0.4485,0.52],[0.4505,0.54],[0.4525,0.48],[0.4545,0.51],[0.4565,0.46],[0.4585,0.50],
[0.4605,0.52],[0.4625,0.46],[0.4645,0.49],[0.4665,0.45],[0.4685,0.48],[0.4705,0.50],[0.4725,0.45],[0.4745,0.48],[0.4765,0.44],[0.4785,0.47],
[0.4805,0.49],[0.4825,0.44],[0.4845,0.47],[0.4865,0.42],[0.4885,0.46],[0.4905,0.46],[0.4925,0.41],[0.4945,0.44],[0.4965,0.38],[0.4985,0.35]];

// ion flux, MAST-U (x 1e22)
var ionE = [[0.249,2.13],[0.2551,2.04],[0.2613,2.02],[0.2674,2.07],[0.2735,2.15],[0.2797,2.12],[0.2858,2.12],[0.2914,2.12],[0.298,2.25],[0.3042,2.28],[0.3103,2.32],[0.3164,2.34],[0.3225,2.46],[0.3282,2.43],[0.334,2.59],[0.340,2.59],[0.3458,2.59],[0.352,2.57],[0.358,2.68],[0.3642,2.76],[0.3703,2.72],[0.3765,2.80],[0.3826,2.78],[0.3887,2.77],[0.3948,2.87],[0.4002,2.98],[0.4064,2.84],[0.4125,2.82],[0.4186,2.88],[0.4248,2.91],[0.4309,2.93],[0.437,2.91],[0.4431,3.17],[0.4493,3.14],[0.4554,3.13],[0.4615,3.05],[0.4676,3.16],[0.4733,3.11]];
var ionF = [[0.201,1.925],[0.2082,2.01],[0.2154,1.916],[0.2219,1.98],[0.2286,1.93],[0.2359,1.85],[0.2431,1.474],[0.250,1.457],[0.2565,1.607],[0.2632,1.653],[0.2702,1.688],[0.2772,1.59],[0.2842,1.647],[0.2909,1.592],[0.2976,1.621],[0.3046,1.647],[0.3116,1.621],[0.3185,1.604],[0.3252,1.569],[0.3325,1.491],[0.3394,1.54],[0.3464,1.584],[0.3531,1.535],[0.3601,1.59],[0.3668,1.41],[0.3738,1.405],[0.3808,1.376],[0.3877,1.517],[0.3947,1.416],[0.4014,1.39],[0.4087,1.295],[0.4156,1.309],[0.4224,1.26],[0.4291,1.231],[0.4361,1.228],[0.443,1.116],[0.4497,1.069],[0.4565,1.058],[0.4634,1.006],[0.4704,1.101]];
var ionG = [[0.2742,1.268],[0.2804,1.306],[0.2853,1.236],[0.291,1.274],[0.2964,1.18],[0.3018,1.189],[0.3074,1.113],[0.3131,1.014],[0.3185,1.014],[0.3239,1.107],[0.3295,1.026],[0.335,1.049],[0.3406,1.02],[0.346,1.005],[0.3517,1.011],[0.3571,1.002],[0.3622,1.02],[0.3676,1.002],[0.373,0.99],[0.3787,1.014],[0.3844,0.99],[0.3898,0.976],[0.3952,0.976],[0.4008,0.912],[0.4065,0.903],[0.4119,0.909],[0.4173,0.923],[0.423,0.815],[0.4284,0.786],[0.4335,0.742],[0.4389,0.713],[0.4446,0.669],[0.45,0.611],[0.4554,0.602],[0.461,0.538],[0.4665,0.523],[0.4716,0.523],[0.4775,0.444]];

// smoothed ion flux (dashed)
var fitA = [[0.185,3.03],[0.224,3.52],[0.258,4.0],[0.272,4.1],[0.286,4.38],[0.303,4.70],[0.311,4.65],[0.341,4.46],[0.362,4.31],[0.389,4.21],[0.406,4.29],[0.43,4.51],[0.457,4.64],[0.485,5.03],[0.516,5.39],[0.538,5.58],[0.548,6.0],[0.557,5.74],[0.565,5.94],[0.575,5.45],[0.587,6.07]];
var fitB = [[0.187,0.32],[0.20,0.35],[0.215,0.39],[0.233,0.41],[0.25,0.395],[0.2635,0.382],[0.275,0.40],[0.287,0.459],[0.307,0.578],[0.331,0.711],[0.348,0.747],[0.37,0.745],[0.3885,0.741],[0.405,0.718],[0.429,0.632],[0.449,0.592],[0.48,0.532],[0.50,0.505],[0.517,0.392],[0.534,0.273],[0.554,0.16]];
var fitC = [[0.185,0.37],[0.20,0.40],[0.223,0.429],[0.25,0.426],[0.265,0.423],[0.2767,0.442],[0.297,0.50],[0.314,0.587],[0.337,0.651],[0.35,0.648],[0.361,0.634],[0.381,0.594],[0.40,0.575],[0.428,0.551],[0.448,0.523],[0.465,0.453],[0.485,0.359],[0.499,0.265],[0.519,0.131],[0.539,0.098]];
var fitD = [[0.2037,0.48],[0.218,0.531],[0.235,0.551],[0.25,0.535],[0.259,0.513],[0.269,0.512],[0.279,0.549],[0.293,0.707],[0.3117,0.823],[0.322,0.84],[0.3406,0.796],[0.3577,0.762],[0.372,0.74],[0.388,0.70],[0.4087,0.633],[0.429,0.565],[0.4462,0.517],[0.46,0.49],[0.47,0.465],[0.4836,0.463],[0.492,0.428],[0.498,0.35],[0.5023,0.238]];
var fitE = [[0.2465,2.02],[0.26,2.07],[0.28,2.15],[0.30,2.24],[0.32,2.35],[0.34,2.47],[0.36,2.62],[0.38,2.75],[0.40,2.83],[0.42,2.89],[0.44,3.0],[0.45,3.08],[0.456,3.11],[0.462,3.10],[0.47,3.02],[0.4782,2.86]];
var fitF = [[0.20,1.88],[0.21,1.92],[0.218,1.98],[0.223,2.0],[0.228,1.96],[0.233,1.85],[0.2403,1.60],[0.246,1.48],[0.251,1.45],[0.259,1.58],[0.2677,1.685],[0.28,1.655],[0.30,1.62],[0.33,1.59],[0.35,1.54],[0.37,1.48],[0.40,1.40],[0.42,1.30],[0.44,1.16],[0.45,1.08],[0.46,1.04],[0.467,1.04],[0.474,1.08]];
var fitG = [[0.2718,1.26],[0.28,1.29],[0.285,1.28],[0.29,1.24],[0.30,1.16],[0.31,1.09],[0.32,1.05],[0.33,1.03],[0.34,1.02],[0.37,1.02],[0.38,1.01],[0.39,0.98],[0.40,0.94],[0.41,0.90],[0.42,0.84],[0.43,0.77],[0.44,0.70],[0.45,0.63],[0.46,0.56],[0.47,0.48],[0.479,0.39]];

// rotational temperatures [fGW, T (K), error (K), marker shown (0 = band only)]
var tempA = [[0.186,4437,190],[0.200,4146,175],[0.2206,4368,200],[0.241,4264,210],[0.255,4278,175],[0.276,4312,145],[0.290,4354,230],[0.311,4528,250],[0.325,4521,250],[0.346,4437,250],[0.360,4472,270],[0.381,4722,250],[0.395,4993,220],[0.415,4528,330],[0.429,4806,290],[0.451,5042,300],[0.464,4701,270],[0.485,5111,300],[0.500,4715,300],[0.520,5208,365],[0.535,5444,380],[0.556,5576,420],[0.570,5444,490],[0.588,6300,500,0]];
var tempB = [[0.195,4383,190],[0.2064,4310,180],[0.2253,4283,200],[0.244,4363,200],[0.2568,4423,200],[0.2753,4383,200],[0.2878,4350,220],[0.3064,4476,200],[0.3186,4416,180],[0.3375,4596,230],[0.350,4576,200],[0.3686,4715,240],[0.3811,4775,230],[0.3997,4842,330],[0.4122,5008,330],[0.4307,5527,420],[0.4432,5945,450],[0.4618,5686,410],[0.4743,5972,460],[0.4932,6052,470],[0.5057,5965,440],[0.5243,6185,500],[0.5365,5660,400],[0.5547,6225,500]];
var tempC = [[0.18,4250,200,0],[0.1976,4307,160],[0.2172,4381,170],[0.2367,4769,290],[0.2491,4387,160],[0.269,4790,200],[0.2818,4917,220],[0.3013,4877,150],[0.3144,4990,260],[0.334,5031,170],[0.3464,5285,250],[0.3659,5413,230],[0.3794,5962,330],[0.3986,6418,400],[0.4114,6224,330],[0.4309,6190,340],[0.4437,6425,400],[0.4629,6338,400],[0.4757,6532,450],[0.4955,6284,350],[0.5083,6733,450],[0.5278,6331,400],[0.5403,6680,400]];
var tempD = [[0.2044,2918,80],[0.2163,2803,90],[0.235,2816,90],[0.2538,2803,90],[0.2667,2932,90],[0.2855,3007,90],[0.298,2905,100],[0.3168,3041,140],[0.3297,3041,120],[0.3485,3415,300],[0.361,3626,380],[0.380,3762,440],[0.3924,3918,440],[0.4114,4129,400],[0.424,4395,500],[0.4428,4218,420],[0.4557,4095,400],[0.4744,4354,500],[0.487,4218,400],[0.5057,4361,500]];
var tempE = [[0.24,4700,230,0],[0.25,4701,230],[0.2708,4701,230],[0.2917,4765,230],[0.3125,4776,230],[0.3333,5067,230],[0.3546,5121,250],[0.375,5240,230],[0.3956,5499,250],[0.4164,5617,250],[0.4375,5941,200],[0.4588,5887,230],[0.49,6740,510,0]];
var tempF = [[0.19,6780,320,0],[0.203,6830,325],[0.2264,7191,380],[0.2503,7840,390],[0.2742,7755,570],[0.2974,8202,480],[0.3215,8085,490],[0.3449,8691,490],[0.3683,8298,495],[0.3927,8809,680],[0.4159,9309,810],[0.4403,9415,800],[0.4639,8787,890],[0.49,8700,700,0]];
var tempG = [[0.265,6870,300,0],[0.2755,6871,300],[0.2939,6860,300],[0.3136,8110,700],[0.3318,7496,480],[0.350,8121,545],[0.3701,8163,640],[0.3885,9064,840],[0.407,8597,715],[0.4261,9350,960],[0.445,9011,1020],[0.464,7739,790],[0.49,8190,1300,0]];

// ---------- layout ----------
var SANS = "Lato, 'Open Sans', 'DejaVu Sans', sans-serif";
var SERIF = "'Liberation Serif', 'DejaVu Serif', serif";
var BLUE = '#3d5fa8', GREEN = '#5d8f2c', RED = '#e5474d';

function fmt2(d) { return d === 0 ? '0' : d.toFixed(2); }

var panels = [
  {id:'a', x0:72, x1:528, y0:37, y1:277, xd:[0.186,0.586], ld:[0,8], rd:[3000,8000],
   lMajor:[0,2,4,6,8], lMinor:[1,3,5,7], rMajor:[3000,4000,5000,6000,7000,8000], rMinor:[],
   xt:ticksTCV, times:timesA, ion:ionA.concat(ionA2), fit:fitA, temp:tempA, yellow:[[0.5462,0.586]], hatch:[],
   tcv:true, exp:'22', shot:'TCV #76113:', conf:'CD, Ohmic, ', psol:'0.5', tx:133, ty:23, ex:82, ey:27,
   lgx:328, lgy:53, letter:'(a)', lx:97, ly:63, note:'No baffles, bottom fuelled', nx:85, ny:263,
   gas:'D', gx:459, gy:253, gcol:'#111', ltx:17, rtx:592},
  {id:'b', x0:72, x1:528, y0:395, y1:643, xd:[0.187,0.584], ld:[0,1], rd:[3000,8000],
   lMajor:[0,0.2,0.4,0.6,0.8,1.0], lMinor:[0.1,0.3,0.5,0.7,0.9], rMajor:[3000,4000,5000,6000,7000,8000], rMinor:[],
   xt:ticksTCV, times:timesB, ion:ionB.concat(ionB2), fit:fitB, temp:tempB, yellow:[[0.3926,0.5547]], hatch:[[0.187,0.195],[0.5547,0.584]],
   tcv:true, exp:'23', shot:'TCV #78045:', conf:'CD, Ohmic, ', psol:'0.5', tx:129, ty:385, ex:80, ey:389,
   lgx:330, lgy:413, letter:'(b)', lx:97, ly:428, note:'\u201cSILO\u201d baffled, top fuelled', nx:95, ny:624,
   gas:'D', gx:450, gy:627, gcol:'#111', ltx:17, rtx:592},
  {id:'c', x0:71, x1:525, y0:768, y1:1017, xd:[0.186,0.580], ld:[0,1], rd:[3000,8000],
   lMajor:[0,0.2,0.4,0.6,0.8,1.0], lMinor:[0.1,0.3,0.5,0.7,0.9], rMajor:[3000,4000,5000,6000,7000,8000], rMinor:[],
   xt:ticksTCV, times:timesC, ion:ionC.concat(ionC2), fit:fitC, temp:tempC, yellow:[[0.3367,0.5403]], hatch:[[0.5403,0.580]],
   tcv:true, exp:'23', shot:'TCV #78024:', conf:'CD, Ohmic, ', psol:'0.5', tx:128, ty:758, ex:80, ey:762,
   lgx:322, lgy:787, letter:'(c)', lx:97, ly:802, note:'\u201cSILO\u201d baffled, bottom fuelled', nx:95, ny:998,
   gas:'D', gx:405, gy:999, gcol:'#111', ltx:15, rtx:588},
  {id:'d', x0:76, x1:528, y0:1141, y1:1387, xd:[0.185,0.582], ld:[0,1], rd:[2000,7000],
   lMajor:[0,0.2,0.4,0.6,0.8,1.0], lMinor:[0.1,0.3,0.5,0.7,0.9], rMajor:[2000,3000,4000,5000,6000,7000], rMinor:[],
   xt:ticksTCV, times:timesD, ion:ionD.concat(ionD2), fit:fitD, temp:tempD, yellow:[[0.326,0.5058]], hatch:[[0.185,0.2037],[0.5058,0.582]],
   tcv:true, exp:'23', shot:'TCV #78440:', conf:'CD, Ohmic, ', psol:'0.5', tx:134, ty:1130, ex:87, ey:1135,
   lgx:325, lgy:1160, letter:'(d)', lx:102, ly:1170, note:'\u201cSILO\u201d baffled, bottom fuelled', nx:99, ny:1376,
   gas:'H', gx:403, gy:1367, gcol:'#7b35b0', ltx:22, rtx:596},
  {id:'e', x0:691, x1:1135, y0:28, y1:276, xd:[0.20,0.4782], ld:[0.33,4.0], rd:[4000,12000],
   lMajor:[1,2,3,4], lMinor:[0.5,1.5,2.5,3.5], rMajor:[4000,6000,8000,10000,12000], rMinor:[5000,7000,9000,11000],
   xt:ticksMU, times:timesE, ion:ionE, fit:fitE, temp:tempE, yellow:[[0.448,0.4782]], hatch:[[0.20,0.2461]],
   tcv:false, exp:'22', shot:'M-U #49408:', conf:'CD, L-mode, ', psol:'1.3', tx:745, ty:17, ex:697, ey:22,
   lgx:933, lgy:45, letter:'(e)', lx:710, ly:59, ltx:632, rtx:1205},
  {id:'f', x0:691, x1:1135, y0:395, y1:645, xd:[0.20,0.483], ld:[0.317,2.5], rd:[4000,12000],
   lMajor:[0.5,1,1.5,2,2.5], lMinor:[0.75,1.25,1.75,2.25], rMajor:[4000,6000,8000,10000,12000], rMinor:[5000,7000,9000,11000],
   xt:ticksMU, times:timesF, ion:ionF, fit:fitF, temp:tempF, yellow:[[0.2192,0.4739]], hatch:[[0.4739,0.483]],
   tcv:false, exp:'22', shot:'M-U #48008:', conf:'ED, L-mode, ', psol:'1.3', tx:743, ty:383, ex:697, ey:389,
   lgx:930, lgy:413, letter:'(f)', lx:710, ly:427, ltx:632, rtx:1207},
  {id:'g', x0:691, x1:1136, y0:771, y1:1020, xd:[0.20,0.479], ld:[0.305,2.5], rd:[4000,12000],
   lMajor:[0.5,1,1.5,2,2.5], lMinor:[0.75,1.25,1.75,2.25], rMajor:[4000,6000,8000,10000,12000], rMinor:[5000,7000,9000,11000],
   xt:ticksMU, times:timesG, ion:ionG, fit:fitG, temp:tempG, yellow:[[0.2718,0.479]], hatch:[[0.20,0.2718]],
   tcv:false, exp:'22', shot:'M-U #48358:', conf:'SXD, L-mode, ', psol:'1.3', tx:745, ty:758, ex:697, ey:765,
   lgx:933, lgy:788, letter:'(g)', lx:710, ly:802, ltx:632, rtx:1207}
];

var svg = d3.select('#fig');
var defs = svg.append('defs');
var pat = defs.append('pattern').attr('id', 'hatch').attr('patternUnits', 'userSpaceOnUse')
  .attr('width', 6).attr('height', 6);
pat.append('rect').attr('width', 6).attr('height', 6).attr('fill', '#d1d1d1');
pat.append('path').attr('d', 'M0,6 L6,0 M-1,1 L1,-1 M5,7 L7,5')
  .attr('stroke', '#8e8e8e').attr('stroke-width', 0.8);

function styleAxis(sel, color, size) {
  sel.select('.domain').remove();
  sel.selectAll('.tick line').attr('stroke', '#999').attr('stroke-width', 1.1);
  sel.selectAll('text').attr('fill', color).style('font-family', SANS)
    .style('font-weight', 700).style('font-size', size + 'px');
}

function drawPanel(p) {
  var x = d3.scaleLinear().domain(p.xd).range([p.x0, p.x1]);
  var yL = d3.scaleLinear().domain(p.ld).range([p.y1, p.y0]);
  var yR = d3.scaleLinear().domain(p.rd).range([p.y1, p.y0]);
  var lcol = p.tcv ? BLUE : GREEN;
  var g = svg.append('g');

  defs.append('clipPath').attr('id', 'clip' + p.id).append('rect')
    .attr('x', p.x0).attr('y', p.y0).attr('width', p.x1 - p.x0).attr('height', p.y1 - p.y0);
  var plot = g.append('g').attr('clip-path', 'url(#clip' + p.id + ')');

  plot.append('g').selectAll('rect').data(p.yellow).join('rect')
    .attr('x', function(d){ return x(d[0]); }).attr('width', function(d){ return x(d[1]) - x(d[0]); })
    .attr('y', p.y0).attr('height', p.y1 - p.y0).attr('fill', '#fdf6cc');

  plot.append('g').selectAll('circle').data(p.ion).join('circle')
    .attr('cx', function(d){ return x(d[0]); }).attr('cy', function(d){ return yL(d[1]); })
    .attr('r', p.tcv ? 3 : 2.9).attr('fill', p.tcv ? '#acd6e6' : '#86e030');

  var line = d3.line().x(function(d){ return x(d[0]); }).y(function(d){ return yL(d[1]); })
    .curve(d3.curveCatmullRom.alpha(0.5));
  plot.append('path').datum(p.fit).attr('d', line).attr('fill', 'none')
    .attr('stroke', p.tcv ? '#5a5ec4' : '#1c6b1c').attr('stroke-width', p.tcv ? 2 : 2.4)
    .attr('stroke-dasharray', p.tcv ? '7,4' : '8,5');

  var area = d3.area().x(function(d){ return x(d[0]); })
    .y0(function(d){ return yR(d[1] - d[2]); }).y1(function(d){ return yR(d[1] + d[2]); });
  plot.append('path').datum(p.temp).attr('d', area).attr('fill', '#e34a5a').attr('fill-opacity', 0.3);

  plot.append('g').selectAll('rect').data(p.hatch).join('rect')
    .attr('x', function(d){ return x(d[0]); }).attr('width', function(d){ return x(d[1]) - x(d[0]); })
    .attr('y', p.y0).attr('height', p.y1 - p.y0).attr('fill', 'url(#hatch)')
    .attr('stroke', '#9a9a9a').attr('stroke-width', 1);

  var eb = g.append('g').selectAll('g').data(p.temp.filter(function(d){ return d[3] !== 0; })).join('g');
  eb.append('line').attr('x1', function(d){ return x(d[0]); }).attr('x2', function(d){ return x(d[0]); })
    .attr('y1', function(d){ return yR(d[1] - d[2]); }).attr('y2', function(d){ return yR(d[1] + d[2]); })
    .attr('stroke', '#d63a47').attr('stroke-width', 1.5);
  [-1, 1].forEach(function(s) {
    eb.append('line').attr('x1', function(d){ return x(d[0]) - 4; }).attr('x2', function(d){ return x(d[0]) + 4; })
      .attr('y1', function(d){ return yR(d[1] + s * d[2]); }).attr('y2', function(d){ return yR(d[1] + s * d[2]); })
      .attr('stroke', '#d63a47').attr('stroke-width', 1.5);
  });
  eb.append('circle').attr('cx', function(d){ return x(d[0]); }).attr('cy', function(d){ return yR(d[1]); })
    .attr('r', 3.2).attr('fill', '#d42a3a');

  // frame
  g.append('rect').attr('x', p.x0).attr('y', p.y0).attr('width', p.x1 - p.x0).attr('height', p.y1 - p.y0)
    .attr('fill', 'none').attr('stroke', '#9a9a9a').attr('stroke-width', 1.2);

  // axes
  g.append('g').attr('transform', 'translate(' + p.x0 + ',0)')
    .call(d3.axisLeft(yL).tickValues(p.lMinor).tickFormat('').tickSize(4))
    .call(function(s){ styleAxis(s, lcol, 16); });
  g.append('g').attr('transform', 'translate(' + p.x0 + ',0)')
    .call(d3.axisLeft(yL).tickValues(p.lMajor).tickFormat(fmt2).tickSize(4).tickPadding(3))
    .call(function(s){ styleAxis(s, lcol, 16); });
  g.append('g').attr('transform', 'translate(' + p.x1 + ',0)')
    .call(d3.axisRight(yR).tickValues(p.rMinor).tickFormat('').tickSize(4))
    .call(function(s){ styleAxis(s, RED, 16.5); });
  g.append('g').attr('transform', 'translate(' + p.x1 + ',0)')
    .call(d3.axisRight(yR).tickValues(p.rMajor).tickFormat(d3.format('d')).tickSize(4).tickPadding(3))
    .call(function(s){ styleAxis(s, RED, 16.5); });
  g.append('g').attr('transform', 'translate(0,' + p.y1 + ')')
    .call(d3.axisBottom(x).tickValues(p.xt).tickFormat(d3.format('.2f')).tickSize(4).tickPadding(4))
    .call(function(s){ styleAxis(s, '#111', 16); });
  g.append('g').attr('transform', 'translate(0,' + p.y1 + ')')
    .call(d3.axisBottom(x).tickValues(p.xt).tickFormat(function(d, i){ return '(' + p.times[i] + ' s)'; })
      .tickSize(0).tickPadding(28))
    .call(function(s){ s.selectAll('.tick line').remove(); styleAxis(s, '#111', 14.3); });

  // f_GW label
  var fx = g.append('text').attr('x', (p.x0 + p.x1) / 2 - 8).attr('y', p.y1 + 61)
    .attr('text-anchor', 'middle').style('font-family', SANS).style('font-weight', 700)
    .style('font-size', '16.5px').attr('fill', '#111');
  fx.append('tspan').text('f');
  fx.append('tspan').attr('dy', 4).style('font-size', '11.5px').text('GW');

  // axis titles
  g.append('text').attr('transform', 'translate(' + p.ltx + ',' + ((p.y0 + p.y1) / 2) + ') rotate(-90)')
    .attr('text-anchor', 'middle').attr('dominant-baseline', 'central')
    .style('font-family', SANS).style('font-weight', 700).style('font-size', '18.5px')
    .attr('fill', lcol).text('Peak particle flux (ions/m\u00b2 s)');
  g.append('text').attr('transform', 'translate(' + p.rtx + ',' + ((p.y0 + p.y1) / 2) + ') rotate(-90)')
    .attr('text-anchor', 'middle').attr('dominant-baseline', 'central')
    .style('font-family', SANS).style('font-weight', 700).style('font-size', '19px')
    .attr('fill', RED).text('Rotational temperature (K)');

  // exponent
  var ex = g.append('text').attr('x', p.ex).attr('y', p.ey).attr('fill', lcol)
    .style('font-family', SANS).style('font-size', '13.5px');
  ex.append('tspan').style('font-size', '11px').text('x ');
  ex.append('tspan').text('10');
  ex.append('tspan').attr('dy', -5).style('font-size', '9.5px').text(p.exp);

  // title
  var t = g.append('text').attr('x', p.tx).attr('y', p.ty).attr('fill', '#111')
    .style('font-family', SANS).style('font-weight', 700).style('font-size', '17.3px');
  t.append('tspan').text(p.shot + '\u00a0\u00a0' + p.conf);
  t.append('tspan').style('font-family', SERIF).style('font-style', 'italic').style('font-weight', 400)
    .style('font-size', '19.5px').text('P');
  t.append('tspan').attr('dy', 4).style('font-family', SERIF).style('font-style', 'italic')
    .style('font-weight', 400).style('font-size', '13px').text('SOL');
  t.append('tspan').attr('dy', -4).text(' = ' + p.psol + ' MW');

  // panel letter
  g.append('text').attr('x', p.lx).attr('y', p.ly).style('font-family', SERIF)
    .style('font-size', '33px').attr('fill', '#111').text(p.letter);

  // legend
  var lg = g.append('g').attr('transform', 'translate(' + p.lgx + ',' + p.lgy + ')');
  lg.append('rect').attr('width', 197).attr('height', 37).attr('rx', 3)
    .attr('fill', '#fff').attr('fill-opacity', 0.82).attr('stroke', '#dedede');
  lg.append('circle').attr('cx', 18).attr('cy', 9).attr('r', 3).attr('fill', p.tcv ? '#acd6e6' : '#86e030');
  lg.append('line').attr('x1', 18).attr('x2', 18).attr('y1', 20).attr('y2', 33).attr('stroke', '#d63a47').attr('stroke-width', 1.3);
  lg.append('line').attr('x1', 15).attr('x2', 21).attr('y1', 20).attr('y2', 20).attr('stroke', '#d63a47').attr('stroke-width', 1.3);
  lg.append('line').attr('x1', 15).attr('x2', 21).attr('y1', 33).attr('y2', 33).attr('stroke', '#d63a47').attr('stroke-width', 1.3);
  lg.append('circle').attr('cx', 18).attr('cy', 26.5).attr('r', 2.8).attr('fill', '#d42a3a');
  lg.append('text').attr('x', 39).attr('y', 13).text('Ion flux');
  lg.append('text').attr('x', 39).attr('y', 30).text('Rotational Temperatures');
  lg.selectAll('text').style('font-family', "'DejaVu Sans', sans-serif").style('font-size', '12.3px').attr('fill', '#222');

  // annotations
  if (p.note) {
    g.append('text').attr('x', p.nx).attr('y', p.ny).style('font-family', SANS).style('font-weight', 700)
      .style('font-size', '15.4px').attr('fill', '#111').text(p.note);
    var gt = g.append('text').attr('x', p.gx).attr('y', p.gy).style('font-family', SANS).style('font-weight', 700)
      .style('font-size', p.gas === 'H' ? '16px' : '19px').attr('fill', p.gcol);
    gt.append('tspan').text(p.gas);
    gt.append('tspan').attr('dy', 5).style('font-size', '12.5px').text('2');
  }
}

panels.forEach(drawPanel);
</script>
</body>
</html>
